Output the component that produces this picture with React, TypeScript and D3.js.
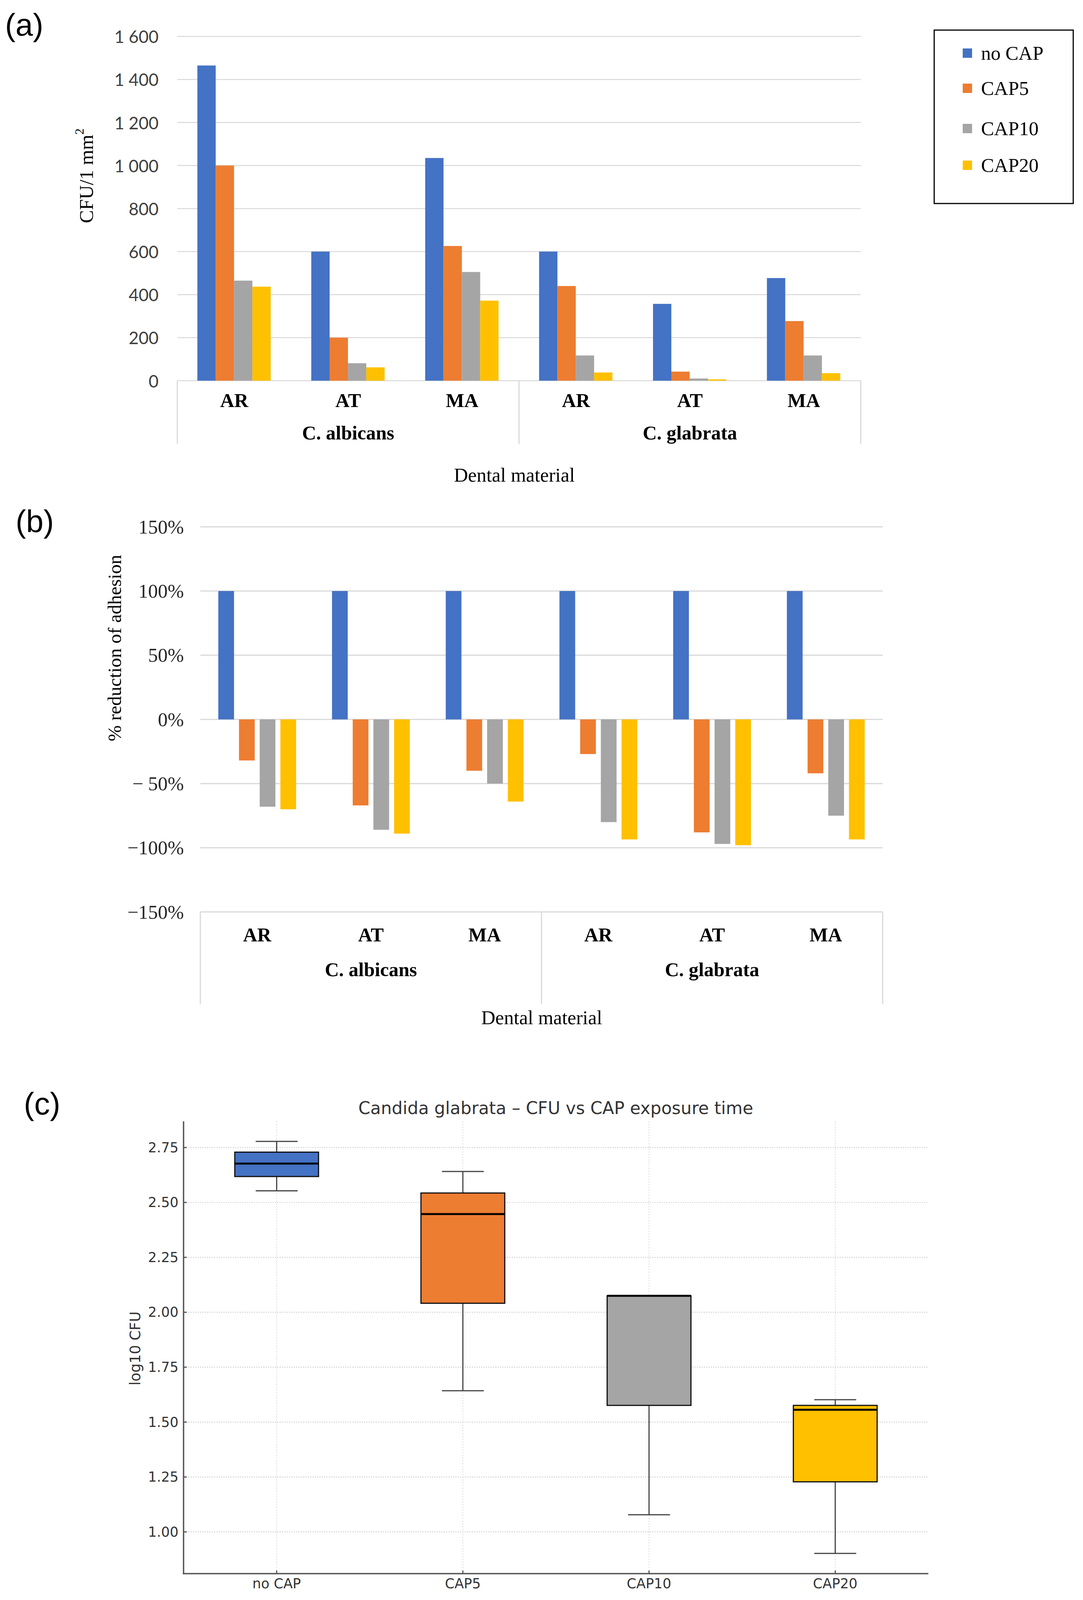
import * as d3 from "d3";

const W = 2773;
const H = 4100;

// categories
const materials = ["AR", "AT", "MA", "AR", "AT", "MA"];
const species = ["C. albicans", "C. glabrata"];
const seriesNames = ["no CAP", "CAP5", "CAP10", "CAP20"];
const seriesColors = ["#4472C4", "#ED7D31", "#A5A5A5", "#FFC000"];

// (a) CFU per 1 mm2
const cfuNoCap = [1465, 600, 1035, 600, 357, 477];
const cfuCap5 = [1000, 200, 626, 440, 42, 277];
const cfuCap10 = [465, 81, 505, 117, 10, 117];
const cfuCap20 = [437, 62, 372, 38, 6, 35];
const cfuSeries = [cfuNoCap, cfuCap5, cfuCap10, cfuCap20];
const cfuTicks = [0, 200, 400, 600, 800, 1000, 1200, 1400, 1600];

// (b) % reduction of adhesion
const redNoCap = [100, 100, 100, 100, 100, 100];
const redCap5 = [-32, -67, -40, -27, -88, -42];
const redCap10 = [-68, -86, -50, -80, -97, -75];
const redCap20 = [-70, -89, -64, -93.5, -98, -93.5];
const redSeries = [redNoCap, redCap5, redCap10, redCap20];
const pctTicks = [-150, -100, -50, 0, 50, 100, 150];

// (c) box plot, log10 CFU
const boxLabels = ["no CAP", "CAP5", "CAP10", "CAP20"];
const boxLow = [2.553, 1.643, 1.078, 0.902];
const boxQ1 = [2.618, 2.041, 1.576, 1.228];
const boxMed = [2.677, 2.447, 2.075, 1.556];
const boxQ3 = [2.729, 2.543, 2.075, 1.576];
const boxHigh = [2.778, 2.641, 2.075, 1.602];
const logTicks = [1.0, 1.25, 1.5, 1.75, 2.0, 2.25, 2.5, 2.75];

const serif = "'Liberation Serif', 'Times New Roman', serif";
const calibri = "Lato, 'Open Sans', sans-serif";
const dejavu = "'DejaVu Sans', sans-serif";
const arial = "'Liberation Sans', Arial, sans-serif";
const gridColor = "#d9d9d9";

const fmtThousands = (v: number) => {
  if (v < 1000) return String(v);
  const s = String(v);
  return s.slice(0, s.length - 3) + " " + s.slice(s.length - 3);
};

const fmtPct = (v: number) => {
  if (v < 0) return "\u2212" + (Math.abs(v) < 100 ? " " : "") + Math.abs(v) + "%";
  return v + "%";
};

const CategoryAxis = ({ x, y0, y1, matY, spY, titleY, titleX }: any) => {
  const bw = x.bandwidth();
  const r = x.range();
  const splits = [r[0], x(materials[3] + "3"), r[1]];
  return (
    <g>
      {splits.map((sx: number, i: number) => (
        <line key={i} x1={sx} x2={sx} y1={y0} y2={y1} stroke={gridColor} strokeWidth={3} />
      ))}
      {materials.map((m, i) => (
        <text key={i} x={x(m + i)! + bw / 2} y={matY} textAnchor="middle" dominantBaseline="central"
          fontFamily={serif} fontWeight="bold" fontSize={50} fill="#000">{m}</text>
      ))}
      {species.map((s, i) => (
        <text key={s} x={x(materials[i * 3 + 1] + (i * 3 + 1))! + bw / 2} y={spY} textAnchor="middle"
          dominantBaseline="central" fontFamily={serif} fontWeight="bold" fontSize={50} fill="#000">{s}</text>
      ))}
      <text x={titleX} y={titleY} textAnchor="middle" dominantBaseline="central"
        fontFamily={serif} fontSize={50} fill="#000">Dental material</text>
    </g>
  );
};

const catKeys = materials.map((m, i) => m + i);

const PanelA = () => {
  const x = d3.scaleBand().domain(catKeys).range([454, 2204]);
  const bw = x.bandwidth();
  const xs = d3.scaleBand().domain(seriesNames).range([0.176 * bw, 0.82 * bw]);
  const y = d3.scaleLinear().domain([0, 1600]).range([974.5, 93.3]);
  return (
    <g>
      <text x={13} y={91} fontFamily={arial} fontSize={80} fill="#000">(a)</text>
      {cfuTicks.map((t) => (
        <g key={t}>
          <line x1={454} x2={2204} y1={y(t)} y2={y(t)} stroke={gridColor} strokeWidth={2.5} />
          <text x={406} y={y(t)} textAnchor="end" dominantBaseline="central" fontFamily={calibri}
            fontSize={44} fill="#404040">{fmtThousands(t)}</text>
        </g>
      ))}
      {cfuSeries.map((vals, si) =>
        vals.map((v, ci) => (
          <rect key={si + "-" + ci} x={x(catKeys[ci])! + xs(seriesNames[si])!} width={xs.bandwidth()}
            y={y(v)} height={y(0) - y(v)} fill={seriesColors[si]} />
        ))
      )}
      <CategoryAxis x={x} y0={974.5} y1={1136} matY={1025} spY={1108} titleY={1216} titleX={1317} />
      <text transform="translate(221,450) rotate(-90)" textAnchor="middle" dominantBaseline="central"
        fontFamily={serif} fontSize={50} fill="#000">
        CFU/1 mm<tspan fontSize={32} dy={-18}>2</tspan>
      </text>
      <rect x={2392} y={77} width={356} height={444} fill="none" stroke="#000" strokeWidth={3} />
      {seriesNames.map((s, i) => {
        const cy = [136, 226, 329, 423][i];
        return (
          <g key={s}>
            <rect x={2465} y={cy - 12} width={24} height={24} fill={seriesColors[i]} />
            <text x={2512} y={cy} dominantBaseline="central" fontFamily={serif} fontSize={50} fill="#000">{s}</text>
          </g>
        );
      })}
    </g>
  );
};

const PanelB = () => {
  const x = d3.scaleBand().domain(catKeys).range([513, 2260]);
  const bw = x.bandwidth();
  const xs = d3.scaleBand().domain(seriesNames).range([0.136 * bw, 0.864 * bw])
    .paddingInner(0.24).paddingOuter(0.12);
  const y = d3.scaleLinear().domain([-150, 150]).range([2334.6, 1348.7]);
  return (
    <g>
      <text x={40} y={1362} fontFamily={arial} fontSize={80} fill="#000">(b)</text>
      {pctTicks.map((t) => (
        <g key={t}>
          <line x1={513} x2={2260} y1={y(t)} y2={y(t)} stroke={gridColor} strokeWidth={3} />
          <text x={471} y={y(t)} textAnchor="end" dominantBaseline="central" fontFamily={serif}
            fontSize={50} fill="#262626">{fmtPct(t)}</text>
        </g>
      ))}
      {redSeries.map((vals, si) =>
        vals.map((v, ci) => (
          <rect key={si + "-" + ci} x={x(catKeys[ci])! + xs(seriesNames[si])!} width={xs.bandwidth()}
            y={Math.min(y(v), y(0))} height={Math.abs(y(0) - y(v))} fill={seriesColors[si]} />
        ))
      )}
      <CategoryAxis x={x} y0={2334.6} y1={2570} matY={2393} spY={2482} titleY={2605} titleX={1387} />
      <text transform="translate(293,1659) rotate(-90)" textAnchor="middle" dominantBaseline="central"
        fontFamily={serif} fontSize={49} fill="#000">% reduction of adhesion</text>
    </g>
  );
};

const PanelC = () => {
  const x = d3.scaleLinear().domain([0.5, 4.5]).range([470, 2377]);
  const y = d3.scaleLinear().domain([0.81, 2.8695]).range([4028.5, 2870.5]);
  const spine = "#555";
  const boxW = 0.45;
  return (
    <g>
      <text x={61} y={2853} fontFamily={arial} fontSize={80} fill="#000">(c)</text>
      <text x={1423} y={2852} textAnchor="middle" fontFamily={dejavu} fontSize={44} fill="#333">
        Candida glabrata – CFU vs CAP exposure time
      </text>
      {logTicks.map((t) => (
        <g key={t}>
          <line x1={470} x2={2377} y1={y(t)} y2={y(t)} stroke="#cfcfcf" strokeWidth={2.2} strokeDasharray="3,3" />
          <line x1={470} x2={478} y1={y(t)} y2={y(t)} stroke={spine} strokeWidth={3} />
          <text x={457} y={y(t)} textAnchor="end" dominantBaseline="central" fontFamily={dejavu}
            fontSize={35} fill="#333">{t.toFixed(2)}</text>
        </g>
      ))}
      {boxLabels.map((b, i) => (
        <g key={b}>
          <line x1={x(i + 1)} x2={x(i + 1)} y1={2870.5} y2={4028.5} stroke="#dadada" strokeWidth={2}
            strokeDasharray="3,4" />
          <line x1={x(i + 1)} x2={x(i + 1)} y1={4028.5} y2={4020.5} stroke={spine} strokeWidth={3} />
          <text x={x(i + 1)} y={4054} textAnchor="middle" dominantBaseline="central" fontFamily={dejavu}
            fontSize={35} fill="#333">{b}</text>
        </g>
      ))}
      {boxLabels.map((b, i) => {
        const cx = x(i + 1);
        const hw = x(1 + boxW / 2) - x(1);
        const cw = hw / 2;
        return (
          <g key={"box" + b}>
            <line x1={cx} x2={cx} y1={y(boxLow[i])} y2={y(boxQ1[i])} stroke="#444" strokeWidth={3} />
            <line x1={cx} x2={cx} y1={y(boxQ3[i])} y2={y(boxHigh[i])} stroke="#444" strokeWidth={3} />
            <line x1={cx - cw} x2={cx + cw} y1={y(boxLow[i])} y2={y(boxLow[i])} stroke="#444" strokeWidth={3} />
            <line x1={cx - cw} x2={cx + cw} y1={y(boxHigh[i])} y2={y(boxHigh[i])} stroke="#444" strokeWidth={3} />
            <rect x={cx - hw} width={2 * hw} y={y(boxQ3[i])} height={y(boxQ1[i]) - y(boxQ3[i])}
              fill={seriesColors[i]} stroke="#111" strokeWidth={3} />
            <line x1={cx - hw} x2={cx + hw} y1={y(boxMed[i])} y2={y(boxMed[i])} stroke="#000" strokeWidth={5} />
          </g>
        );
      })}
      <line x1={470} x2={470} y1={2870.5} y2={4028.5} stroke={spine} strokeWidth={3.5} />
      <line x1={468} x2={2377} y1={4028.5} y2={4028.5} stroke={spine} strokeWidth={3.5} />
      <text transform="translate(346,3452) rotate(-90)" textAnchor="middle" dominantBaseline="central"
        fontFamily={dejavu} fontSize={37} fill="#333">log10 CFU</text>
    </g>
  );
};

export default function App() {
  return (
    <svg width={W} height={H} viewBox={`0 0 ${W} ${H}`}
      style={{ position: "absolute", left: 0, top: 0, background: "#fff" }}>
      <rect width={W} height={H} fill="#fff" />
      <PanelA />
      <PanelB />
      <PanelC />
    </svg>
  );
}
